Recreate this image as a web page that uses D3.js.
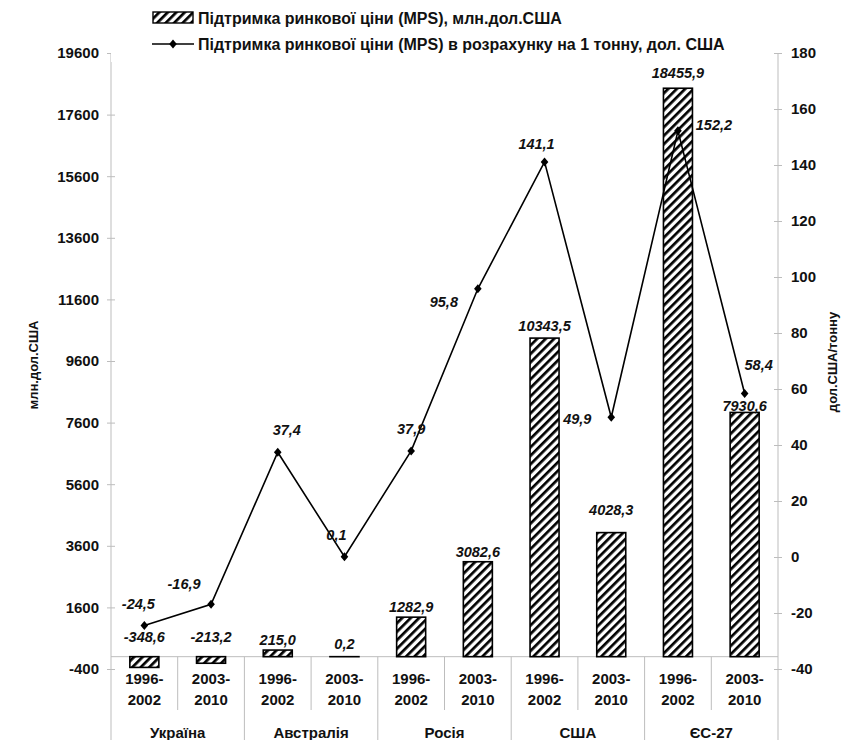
<!DOCTYPE html>
<html>
<head>
<meta charset="utf-8">
<script src="https://cdn.jsdelivr.net/npm/d3@7"></script>
<style>
  body { margin: 0; background: #fff; }
  svg { display: block; font-family: "Liberation Sans", Arial, sans-serif; }
</style>
</head>
<body>
<script>
// data
var countries = ["Україна", "Австралія", "Росія", "США", "ЄС-27"];
var periods = [["1996-", "2002"], ["2003-", "2010"]];
var mpsValues = [-348.6, -213.2, 215.0, 0.2, 1282.9, 3082.6, 10343.5, 4028.3, 18455.9, 7930.6];
var perTonValues = [-24.5, -16.9, 37.4, 0.1, 37.9, 95.8, 141.1, 49.9, 152.2, 58.4];
var leftTicks = [-400, 1600, 3600, 5600, 7600, 9600, 11600, 13600, 15600, 17600, 19600];
var rightTicks = [-40, -20, 0, 20, 40, 60, 80, 100, 120, 140, 160, 180];

// hand-placed label nudges (like the excel original)
var lineLabelShift = [[-6, -22], [-27, -20], [9, -22], [-8, -22], [0, -22], [-34, 13], [-8, -18], [-34, 2], [36, -6], [14, -29]];
var barLabelShift = [0, 0, 0, 0, 0, 0, -2, -13, -5, 4];

var svg = d3.select("body").append("svg")
  .attr("width", 846)
  .attr("height", 740);

var plotL = 111, plotR = 778, plotT = 53, plotB = 669;
var axisColor = "#bdbdbd";

var idx = d3.range(mpsValues.length);
var x = d3.scaleBand()
  .domain(idx)
  .range([plotL, plotR])
  .paddingInner(0.565)
  .paddingOuter(0.2825);
var cx = function(i) { return x(i) + x.bandwidth() / 2; };
var step = x.step();

var yL = d3.scaleLinear().domain([-400, 19600]).range([plotB, plotT]);
var yR = d3.scaleLinear().domain([-40, 180]).range([plotB, plotT]);
var y0 = yL(0);

var fmt = function(v) { return d3.format(".1f")(v).replace("−", "-").replace(".", ","); };

// hatch pattern
var defs = svg.append("defs");
var pat = defs.append("pattern")
  .attr("id", "hatch")
  .attr("patternUnits", "userSpaceOnUse")
  .attr("width", 6)
  .attr("height", 6)
  .attr("patternTransform", "rotate(45)");
pat.append("rect").attr("width", 6).attr("height", 6).attr("fill", "#fff");
pat.append("line")
  .attr("x1", 0).attr("y1", 0).attr("x2", 0).attr("y2", 6)
  .attr("stroke", "#000").attr("stroke-width", 5.4);

// axes
var gl = svg.append("g")
  .attr("transform", "translate(" + plotL + ",0)")
  .call(d3.axisLeft(yL).tickValues(leftTicks).tickSize(4).tickPadding(8));
var gr = svg.append("g")
  .attr("transform", "translate(" + plotR + ",0)")
  .call(d3.axisRight(yR).tickValues(rightTicks).tickSize(4).tickPadding(9));
[gl, gr].forEach(function(g) {
  g.select(".domain").remove();
  g.selectAll(".tick line").attr("x1", -4).attr("x2", 4).attr("stroke", axisColor);
  g.selectAll(".tick text")
    .text(function(d) { return d; })
    .attr("fill", "#111")
    .style("font-size", "15px")
    .style("font-weight", "bold");
});

// axis lines, baseline and category separators
svg.append("line").attr("x1", plotL).attr("x2", plotL).attr("y1", plotT).attr("y2", 740).attr("stroke", axisColor);
svg.append("line").attr("x1", plotR).attr("x2", plotR).attr("y1", plotT).attr("y2", 740).attr("stroke", axisColor);
svg.append("line").attr("x1", plotL).attr("x2", plotR).attr("y1", y0).attr("y2", y0).attr("stroke", axisColor);

svg.selectAll(".sep")
  .data(d3.range(1, mpsValues.length))
  .enter().append("line")
  .attr("class", "sep")
  .attr("x1", function(i) { return plotL + i * step; })
  .attr("x2", function(i) { return plotL + i * step; })
  .attr("y1", y0)
  .attr("y2", function(i) { return i % 2 === 0 ? 740 : 710; })
  .attr("stroke", axisColor);

// category labels
var cat = svg.selectAll(".cat")
  .data(idx)
  .enter().append("text")
  .attr("class", "cat")
  .attr("x", cx)
  .attr("text-anchor", "middle")
  .style("font-size", "15px")
  .style("font-weight", "bold")
  .attr("fill", "#111");
cat.append("tspan").attr("x", cx).attr("y", 684).text(function(i) { return periods[i % 2][0]; });
cat.append("tspan").attr("x", cx).attr("y", 705).text(function(i) { return periods[i % 2][1]; });

svg.selectAll(".country")
  .data(countries)
  .enter().append("text")
  .attr("class", "country")
  .attr("x", function(d, j) { return plotL + (j * 2 + 1) * step; })
  .attr("y", 738)
  .attr("text-anchor", "middle")
  .style("font-size", "15px")
  .style("font-weight", "bold")
  .attr("fill", "#111")
  .text(function(d) { return d; });

// bars
svg.selectAll(".bar")
  .data(idx)
  .enter().append("rect")
  .attr("class", "bar")
  .attr("x", function(i) { return x(i); })
  .attr("width", x.bandwidth())
  .attr("y", function(i) { return Math.min(yL(mpsValues[i]), y0); })
  .attr("height", function(i) { return Math.abs(yL(mpsValues[i]) - y0); })
  .attr("fill", "url(#hatch)")
  .attr("stroke", "#000")
  .attr("stroke-width", 1.6);

svg.selectAll(".barlab")
  .data(idx)
  .enter().append("text")
  .attr("class", "barlab")
  .attr("x", cx)
  .attr("y", function(i) {
    var v = mpsValues[i];
    if (v < 0) return y0 - 20;
    return Math.min(yL(v), y0 - 3) - 10 + barLabelShift[i];
  })
  .attr("dy", "0.35em")
  .attr("text-anchor", "middle")
  .style("font-size", "14.5px")
  .style("font-weight", "bold")
  .style("font-style", "italic")
  .attr("fill", "#111")
  .text(function(i) { return fmt(mpsValues[i]); });

// line on right axis
var line = d3.line()
  .x(function(i) { return cx(i); })
  .y(function(i) { return yR(perTonValues[i]); });

svg.append("path")
  .datum(idx)
  .attr("d", line)
  .attr("fill", "none")
  .attr("stroke", "#000")
  .attr("stroke-width", 1.6);

var diamond = "M0,-4.5L3.8,0L0,4.5L-3.8,0Z";
svg.selectAll(".pt")
  .data(idx)
  .enter().append("path")
  .attr("class", "pt")
  .attr("d", diamond)
  .attr("transform", function(i) { return "translate(" + cx(i) + "," + yR(perTonValues[i]) + ")"; })
  .attr("fill", "#000");

svg.selectAll(".linelab")
  .data(idx)
  .enter().append("text")
  .attr("class", "linelab")
  .attr("x", function(i) { return cx(i) + lineLabelShift[i][0]; })
  .attr("y", function(i) { return yR(perTonValues[i]) + lineLabelShift[i][1]; })
  .attr("dy", "0.35em")
  .attr("text-anchor", "middle")
  .style("font-size", "14.5px")
  .style("font-weight", "bold")
  .style("font-style", "italic")
  .attr("fill", "#111")
  .text(function(i) { return fmt(perTonValues[i]); });

// axis titles
svg.append("text")
  .attr("transform", "translate(38,365) rotate(-90)")
  .attr("text-anchor", "middle")
  .style("font-size", "13px")
  .style("font-weight", "bold")
  .attr("fill", "#111")
  .text("млн.дол.США");

svg.append("text")
  .attr("transform", "translate(837,362) rotate(-90)")
  .attr("text-anchor", "middle")
  .style("font-size", "13px")
  .style("font-weight", "bold")
  .attr("fill", "#111")
  .text("дол.США/тонну");

// legend
var lg = svg.append("g");
lg.append("rect").attr("x", plotL).attr("y", 0).attr("width", 655).attr("height", 62).attr("fill", "#fff");
lg.append("rect")
  .attr("x", 153).attr("y", 12).attr("width", 40).attr("height", 11)
  .attr("fill", "url(#hatch)").attr("stroke", "#000").attr("stroke-width", 1.4);
lg.append("line")
  .attr("x1", 152).attr("x2", 194).attr("y1", 44).attr("y2", 44)
  .attr("stroke", "#000").attr("stroke-width", 1.6);
lg.append("path").attr("d", diamond).attr("transform", "translate(173,44)").attr("fill", "#000");
lg.selectAll(".lgtext")
  .data(["Підтримка ринкової ціни (MPS), млн.дол.США",
         "Підтримка ринкової ціни (MPS) в розрахунку на 1 тонну, дол. США"])
  .enter().append("text")
  .attr("x", 198)
  .attr("y", function(d, i) { return 18 + i * 26; })
  .attr("dy", "0.35em")
  .style("font-size", "16px")
  .style("font-weight", "bold")
  .attr("fill", "#111")
  .text(function(d) { return d; });
</script>
</body>
</html>
